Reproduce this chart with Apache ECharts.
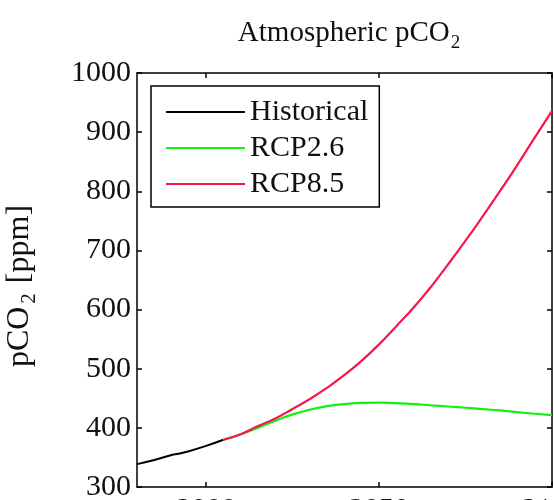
<!DOCTYPE html>
<html>
<head>
<meta charset="utf-8">
<script src="https://cdn.jsdelivr.net/npm/echarts@6/dist/echarts.min.js"></script>
<style>
  html, body { margin: 0; padding: 0; background: #fff; }
  #chart { width: 554px; height: 500px; }
</style>
</head>
<body>
<div id="chart"></div>
<script>
// years and pCO2 [ppm]
var histYears = [1980, 1985, 1990, 1992, 1995, 2000, 2005];
var histValues = [338.7, 345.5, 354.0, 356.2, 360.5, 369.5, 379.8];

var rcpYears = [2005, 2010, 2015, 2020, 2025, 2030, 2035, 2040, 2045, 2050,
                2055, 2060, 2065, 2070, 2075, 2080, 2085, 2090, 2095, 2100];
var rcp26Values = [379.8, 389.1, 400.1, 412.1, 422.8, 430.8, 436.7, 440.2, 442.2, 442.7,
                   441.7, 440.2, 438.0, 436.1, 434.0, 431.6, 429.4, 426.5, 423.9, 421.4];
var rcp85Values = [379.8, 389.3, 403.0, 415.8, 432.0, 448.8, 467.9, 489.4, 513.7, 541.2,
                   572.0, 603.5, 638.4, 676.8, 716.5, 757.9, 800.6, 844.8, 890.6, 935.9];

var xTicks = [2000, 2050, 2100];

function pairs(xs, ys) {
  return xs.map(function (x, i) { return [x, ys[i]]; });
}
function plain(v) { return String(v); }

var serif = "'Liberation Serif', 'Times New Roman', serif";
var chart = echarts.init(document.getElementById('chart'));

var frameX = {
  type: 'value', min: 1980, max: 2100,
  axisLine: { show: true, lineStyle: { color: '#000', width: 1.5 } },
  axisTick: { show: true, inside: true, length: 5, customValues: xTicks, lineStyle: { color: '#000', width: 1.5 } },
  splitLine: { show: false }
};
var frameY = {
  type: 'value', min: 300, max: 1000, interval: 100,
  axisLine: { show: true, lineStyle: { color: '#000', width: 1.5 } },
  axisTick: { show: true, inside: true, length: 5, lineStyle: { color: '#000', width: 1.5 } },
  splitLine: { show: false }
};

var option = {
  backgroundColor: '#fff',
  animation: false,
  title: {
    text: 'Atmospheric pCO{sub|2}',
    left: 344, textAlign: 'center', top: 9,
    textStyle: {
      fontFamily: serif, fontSize: 29, fontWeight: 'normal', color: '#111',
      rich: { sub: { fontFamily: serif, fontSize: 19, color: '#111', padding: [20, 0, 0, 1] } }
    }
  },
  grid: { left: 137, right: 2, top: 73, bottom: 13, containLabel: false, outerBoundsMode: 'none' },
  legend: {
    orient: 'vertical', left: 151, top: 86,
    width: 238, height: 121,
    padding: [11, 11, 8, 15],
    itemGap: 6, itemWidth: 79, itemHeight: 2, icon: 'rect',
    borderColor: '#000', borderWidth: 1.5, backgroundColor: '#fff',
    textStyle: { fontFamily: serif, fontSize: 30, color: '#111' },
    data: ['Historical', 'RCP2.6', 'RCP8.5']
  },
  xAxis: [
    Object.assign({}, frameX, {
      position: 'bottom',
      axisLabel: { show: true, customValues: xTicks, margin: 8, formatter: plain, fontFamily: serif, fontSize: 30, color: '#111' }
    }),
    Object.assign({}, frameX, { position: 'top', axisLabel: { show: false } })
  ],
  yAxis: [
    Object.assign({}, frameY, {
      position: 'left',
      axisLabel: { show: true, margin: 6, formatter: plain, fontFamily: serif, fontSize: 30, color: '#111' },
      name: 'pCO{sub|2} [ppm]',
      nameLocation: 'middle', nameGap: 97, nameRotate: 90,
      nameTextStyle: {
        fontFamily: serif, fontSize: 32, color: '#111', padding: [0, 12, 0, 0],
        rich: { sub: { fontFamily: serif, fontSize: 21, color: '#111', padding: [20, 2, 0, 3] } }
      }
    }),
    Object.assign({}, frameY, { position: 'right', axisLabel: { show: false } })
  ],
  series: [
    {
      name: 'Historical', type: 'line', smooth: true, showSymbol: false, symbol: 'none',
      lineStyle: { color: '#000', width: 2 }, itemStyle: { color: '#000' },
      data: pairs(histYears, histValues)
    },
    {
      name: 'RCP2.6', type: 'line', smooth: true, showSymbol: false, symbol: 'none',
      lineStyle: { color: '#12f012', width: 2.2 }, itemStyle: { color: '#12f012' },
      data: pairs(rcpYears, rcp26Values)
    },
    {
      name: 'RCP8.5', type: 'line', smooth: true, showSymbol: false, symbol: 'none',
      lineStyle: { color: '#f8164a', width: 2.2 }, itemStyle: { color: '#f8164a' },
      data: pairs(rcpYears, rcp85Values)
    }
  ]
};

chart.setOption(option);
</script>
</body>
</html>
